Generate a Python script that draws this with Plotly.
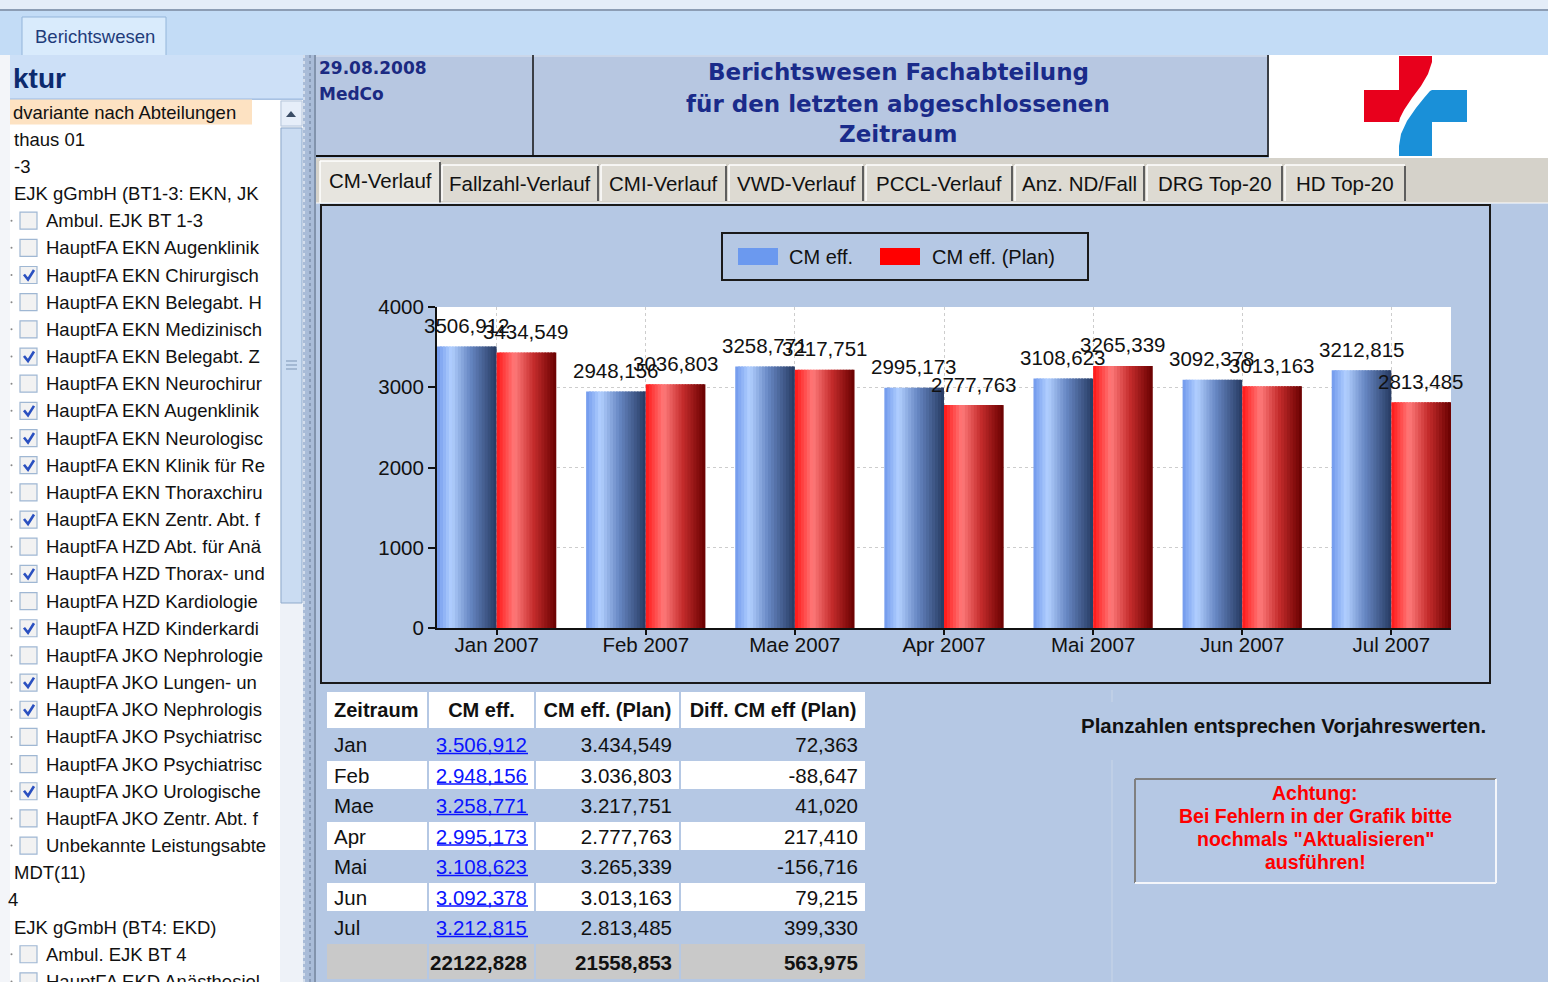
import plotly.graph_objects as go

W, H = 1548, 982
BG = '#b5c8e4'
F = 'Liberation Sans, Arial, sans-serif'
FD = 'DejaVu Sans, Verdana, sans-serif'

# ---------------- data ----------------
months = ['Jan 2007', 'Feb 2007', 'Mae 2007', 'Apr 2007', 'Mai 2007', 'Jun 2007', 'Jul 2007']
table_months = ['Jan', 'Feb', 'Mae', 'Apr', 'Mai', 'Jun', 'Jul']
cm_eff = [3506.912, 2948.156, 3258.771, 2995.173, 3108.623, 3092.378, 3212.815]
cm_plan = [3434.549, 3036.803, 3217.751, 2777.763, 3265.339, 3013.163, 2813.485]
cm_diff = [72.363, -88.647, 41.020, 217.410, -156.716, 79.215, 399.330]
totals = ['22122,828', '21558,853', '563,975']
y_ticks = [0, 1000, 2000, 3000, 4000]
series_names = ['CM eff.', 'CM eff. (Plan)']
table_header = ['Zeitraum', 'CM eff.', 'CM eff. (Plan)', 'Diff. CM eff (Plan)']
tab_labels = ['CM-Verlauf', 'Fallzahl-Verlauf', 'CMI-Verlauf', 'VWD-Verlauf',
              'PCCL-Verlauf', 'Anz. ND/Fall', 'DRG Top-20', 'HD Top-20']
title_lines = ['Berichtswesen Fachabteilung', 'für den letzten abgeschlossenen', 'Zeitraum']
tree_rows = [
    ('dvariante nach Abteilungen', 'hl'), ('thaus 01', 'plain'), ('-3', 'plain'),
    ('EJK gGmbH (BT1-3: EKN, JK', 'plain'),
    ('Ambul. EJK BT 1-3', 0), ('HauptFA EKN Augenklinik', 0), ('HauptFA EKN Chirurgisch', 1),
    ('HauptFA EKN Belegabt. H', 0), ('HauptFA EKN Medizinisch', 0), ('HauptFA EKN Belegabt. Z', 1),
    ('HauptFA EKN Neurochirur', 0), ('HauptFA EKN Augenklinik', 1), ('HauptFA EKN Neurologisc', 1),
    ('HauptFA EKN Klinik für Re', 1), ('HauptFA EKN Thoraxchiru', 0), ('HauptFA EKN Zentr. Abt. f', 1),
    ('HauptFA HZD Abt. für Anä', 0), ('HauptFA HZD Thorax- und', 1), ('HauptFA HZD Kardiologie', 0),
    ('HauptFA HZD Kinderkardi', 1), ('HauptFA JKO Nephrologie', 0), ('HauptFA JKO Lungen- un', 1),
    ('HauptFA JKO Nephrologis', 1), ('HauptFA JKO Psychiatrisc', 0), ('HauptFA JKO Psychiatrisc', 0),
    ('HauptFA JKO Urologische', 1), ('HauptFA JKO Zentr. Abt. f', 0), ('Unbekannte Leistungsabte', 0),
    ('MDT(11)', 'plain'), ('4', 'cut'), ('EJK gGmbH (BT4: EKD)', 'plain'),
    ('Ambul. EJK BT 4', 0), ('HauptFA EKD Anästhesiol', 0),
]


def de(v, sep=True):
    s = f"{v:,.3f}" if sep else f"{v:.3f}"
    return s.replace(',', 'X').replace('.', ',').replace('X', '.')


def px(x):
    return x / W


def py(y):
    return 1 - y / H


shapes = []
annos = []


def R(x0, y0, x1, y1, fill=None, line=None, lw=1, layer='below'):
    shapes.append(dict(type='rect', xref='paper', yref='paper', layer=layer,
                       x0=px(x0), x1=px(x1), y0=py(y1), y1=py(y0),
                       fillcolor=fill if fill else 'rgba(0,0,0,0)',
                       line=dict(color=line if line else 'rgba(0,0,0,0)', width=lw if line else 0)))


def L(x0, y0, x1, y1, color, lw=1, dash='solid', layer='below'):
    shapes.append(dict(type='line', xref='paper', yref='paper', layer=layer,
                       x0=px(x0), x1=px(x1), y0=py(y0), y1=py(y1),
                       line=dict(color=color, width=lw, dash=dash)))


def P(points, fill=None, line=None, lw=1, close=True):
    d = 'M ' + ' L '.join(f'{px(x):.5f},{py(y):.5f}' for x, y in points) + (' Z' if close else '')
    shapes.append(dict(type='path', xref='paper', yref='paper', layer='below', path=d,
                       fillcolor=fill if fill else 'rgba(0,0,0,0)',
                       line=dict(color=line if line else 'rgba(0,0,0,0)', width=lw if line else 0)))


def T(x, y, text, size=18, color='#111', family=F, xa='left', ya='middle'):
    annos.append(dict(xref='paper', yref='paper', x=px(x), y=py(y), text=text,
                      showarrow=False, xanchor=xa, yanchor=ya,
                      font=dict(size=size, color=color, family=family)))


# ---------------- UI chrome ----------------
R(0, 0, W, 10, '#e4edf8')
L(0, 10, W, 10, '#8c9db4', 2)
R(0, 11, W, 55, '#c3dcf6')
R(22, 17, 166, 56, '#d9ebfc', '#93b5da', 1)
T(95, 37, 'Berichtswesen', 18.5, '#1f3c7a', xa='center')

# left panel
R(0, 55, 10, H, '#f3f5f9')
R(10, 55, 305, 99, '#cde0f7')
L(10, 99, 305, 99, '#9dbbe0', 1)
T(11, 78, '<b>ktur</b>', 28, '#0c2a6e')
R(10, 100, 280, H, '#ffffff')
R(280, 100, 303, H, '#eef2f8')
R(281, 101, 302, 126, '#e6eef9', '#b7c7dc', 1)
P([(286, 117), (296, 117), (291, 111)], '#3b4d66')
R(281, 128, 302, 603, '#cadcf2', '#8faacb', 1)
for gy in (361, 365, 369):
    L(286, gy, 297, gy, '#7d95b5', 1)
R(303, 55, 316, H, '#a9bcd8')
L(304, 55, 304, H, '#ffffff', 1, 'dot')
L(310, 55, 310, H, '#6d7f9a', 1, 'dot')
L(315, 55, 315, H, '#5a6a80', 1)

y0row, step = 112, 27.17
for i, (txt, kind) in enumerate(tree_rows):
    yy = y0row + step * i
    if kind == 'hl':
        R(10, yy - 12.5, 252, yy + 12.5, '#fde2c2')
        T(11, yy, txt, 18.5)
    elif kind == 'plain':
        T(12, yy, txt, 18.5)
    elif kind == 'cut':
        T(6, yy, txt, 18.5)
    else:
        shapes.append(dict(type='circle', xref='paper', yref='paper', layer='below',
                           x0=px(10.5), x1=px(12.5), y0=py(yy + 1), y1=py(yy - 1),
                           fillcolor='#888', line=dict(width=0)))
        R(20, yy - 8.5, 37, yy + 8.5, '#f2f2f2', '#9fb7d3', 1.2)
        if kind == 1:
            P([(24, yy - 0.5), (28, yy + 4.5), (34, yy - 5)], None, '#2a50c0', 2.6, close=False)
        T(44, yy, txt, 18.5)

# header boxes
R(316, 55, 1268, 157, '#b7c7e1')
L(316, 56, 1268, 56, '#dde6f2', 1)
L(533, 55, 533, 157, '#111', 1.5)
L(1268, 55, 1268, 157, '#111', 1.5)
L(316, 156, 1268, 156, '#111', 2)
R(1269, 55, W, 160, '#ffffff')
T(317, 68, '<b>29.08.2008</b>', 17, '#1b2a82', FD)
T(317, 94, '<b>MedCo</b>', 17, '#1b2a82', FD)
for k, line in enumerate(title_lines):
    T(898, [72, 104, 134][k], f'<b>{line}</b>', 23, '#1a2b8a', FD, xa='center')

# logo
P([(1364, 90), (1399, 90), (1399, 56), (1432, 56), (1432, 62), (1428, 74), (1421, 86),
   (1412, 98), (1404, 110), (1400, 118), (1399, 122), (1364, 122)], '#e8001c')
P([(1432, 90), (1467, 90), (1467, 122), (1432, 122), (1432, 156), (1399, 156), (1399, 146),
   (1401, 134), (1407, 121), (1416, 108), (1424, 98), (1430, 91)], '#1a90d8')

# tab row
R(316, 158, W, 203, '#d5d2ca')
tab_x = [(320, 440), (442, 598), (601, 726), (729, 863), (866, 1012), (1015, 1144), (1147, 1282), (1285, 1405)]
for k, (lab, (a, b)) in enumerate(zip(tab_labels, tab_x)):
    if k == 0:
        R(a, 161, b, 203, '#e7e5df')
        L(a, 161, a, 203, '#ffffff', 1.5)
        L(a, 161, b, 161, '#ffffff', 1.5)
        L(b, 162, b, 203, '#5e5e5e', 2)
        T((a + b) / 2, 180, lab, 20.5, '#111', xa='center')
    else:
        R(a, 165, b, 201, '#dddad2')
        L(a, 165, a, 201, '#ffffff', 1.5)
        L(a, 165, b, 165, '#ffffff', 1.5)
        L(b, 166, b, 201, '#5e5e5e', 2)
        T((a + b) / 2, 183, lab, 20.5, '#111', xa='center')
L(316, 203, W, 203, '#ffffff', 1)

# chart frame and legend
R(321, 205, 1490, 683, None, '#1a1a1a', 2)
R(722, 233, 1088, 280, None, '#1a1a1a', 2)
R(738, 248, 778, 265, '#6b99ef')
T(787, 257, series_names[0], 20)
R(880, 248, 920, 265, '#ff0000')
T(930, 257, series_names[1], 20)

# right notes
L(1112, 690, 1112, 702, '#c9d6e8', 1)
L(1112, 760, 1112, H, '#c9d6e8', 1)
T(1283, 725, '<b>Planzahlen entsprechen Vorjahreswerten.</b>', 20.5, '#111', xa='center')
L(1135, 779, 1496, 779, '#808080', 2)
L(1135, 779, 1135, 883, '#808080', 2)
L(1135, 883, 1496, 883, '#f4f6fa', 2)
L(1496, 779, 1496, 883, '#f4f6fa', 2)
for k, line in enumerate(['Achtung:', 'Bei Fehlern in der Grafik bitte',
                          'nochmals "Aktualisieren"', 'ausführen!']):
    T(1315, 793 + 23 * k, f'<b>{line}</b>', 19.5, '#ff0000', xa='center')

# ---------------- bar chart ----------------
fig = go.Figure()
idx = list(range(len(months)))


def interp(stops, t):
    for (t0, c0), (t1, c1) in zip(stops, stops[1:]):
        if t0 <= t <= t1:
            f = (t - t0) / (t1 - t0)
            c = [round(c0[j] + (c1[j] - c0[j]) * f) for j in range(3)]
            return f'rgb({c[0]},{c[1]},{c[2]})'
    c = stops[-1][1]
    return f'rgb({c[0]},{c[1]},{c[2]})'


blue_stops = [(0, (112, 152, 236)), (0.24, (178, 208, 255)), (0.55, (104, 136, 196)), (1, (38, 58, 98))]
red_stops = [(0, (255, 22, 22)), (0.3, (255, 122, 122)), (0.62, (196, 44, 44)), (1, (104, 0, 0))]
N = 20
for s, (vals, stops) in enumerate([(cm_eff, blue_stops), (cm_plan, red_stops)]):
    for k in range(N):
        t = (k + 0.5) / N
        wd = 0.4 / N
        fig.add_trace(go.Bar(
            x=idx, y=vals, offset=-0.4 + 0.4 * s + k * wd,
            width=wd * (1.6 if k < N - 1 else 1.0),
            marker=dict(color=interp(stops, t), line=dict(width=0)),
            showlegend=False, hoverinfo='skip', name=series_names[s]))

for s, vals in enumerate([cm_eff, cm_plan]):
    for i, v in enumerate(vals):
        annos.append(dict(xref='x', yref='y', x=i - 0.2 + 0.4 * s, y=v, yshift=21,
                          text=de(v, False), showarrow=False, xanchor='center', yanchor='middle',
                          font=dict(size=20.5, color='#111', family=F)))

# ---------------- table ----------------
n = len(table_months)
row_h, head_h, tab_top = 30.5, 34, 691
row_fill = [BG if r % 2 == 0 else '#ffffff' for r in range(n)] + ['#c9c9c9']
col1 = table_months + ['']
col2 = [de(v) for v in cm_eff] + [f'<b>{totals[0]}</b>']
col3 = [de(v) for v in cm_plan] + [f'<b>{totals[1]}</b>']
col4 = [de(v) for v in cm_diff] + [f'<b>{totals[2]}</b>']
fig.add_trace(go.Table(
    domain=dict(x=[px(326), px(866)], y=[py(980), py(tab_top)]),
    columnwidth=[102, 107, 145, 186],
    header=dict(values=['<b>' + h.replace(' ', '\u00a0') + '</b>' for h in table_header],
                fill_color='#ffffff',
                line=dict(color=BG, width=2), align=['left', 'center', 'center', 'center'],
                font=dict(size=20, color='#111', family=F), height=head_h),
    cells=dict(values=[col1, col2, col3, col4], fill_color=[row_fill] * 4,
               line=dict(color=BG, width=2), align=['left', 'right', 'right', 'right'],
               font=dict(size=20.5, family=F,
                         color=[['#111'] * (n + 1), ['#0a14ff'] * n + ['#111'],
                                ['#111'] * (n + 1), ['#111'] * (n + 1)]),
               height=row_h),
))
# link underlines in the "CM eff." column
for r in range(n):
    uy = tab_top + head_h + row_h * r + 28.5
    L(437, uy, 528, uy, '#0a14ff', 1.5, layer='above')

axis_common = dict(showline=True, linecolor='#111', linewidth=2, ticks='outside',
                   tickcolor='#111', tickwidth=2, showgrid=True, gridcolor='#cdcdcd',
                   griddash='dot', gridwidth=1, zeroline=False,
                   tickfont=dict(size=20.5, color='#111', family=F))
fig.update_layout(
    width=W, height=H, autosize=False,
    margin=dict(l=0, r=0, t=0, b=0, pad=0, autoexpand=False),
    paper_bgcolor=BG, plot_bgcolor='#ffffff',
    barmode='overlay', showlegend=False,
    xaxis=dict(domain=[px(437), px(1451)], range=[-0.4, 6.4], tickvals=idx, ticktext=months,
               ticklen=5, ticklabelstandoff=-8, **axis_common),
    yaxis=dict(domain=[py(628), py(307)], range=[0, 4000], tickvals=y_ticks, ticklen=7,
               **axis_common),
    shapes=shapes, annotations=annos,
)

fig.write_html("out.html", config={'displayModeBar': False},
               post_script="document.body.style.margin='0';document.body.style.overflow='hidden';")
